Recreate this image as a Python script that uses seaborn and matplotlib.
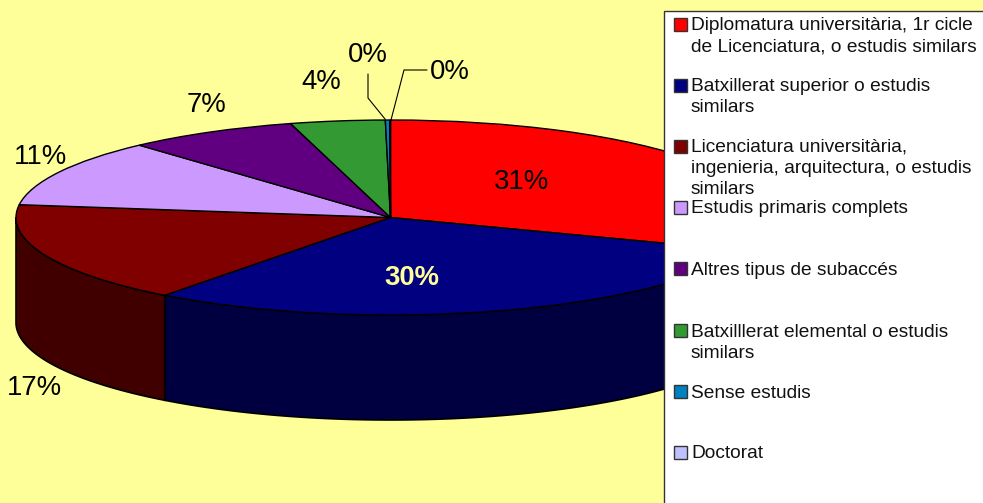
import numpy as np
import matplotlib
matplotlib.use("Agg")
import matplotlib.pyplot as plt
from matplotlib.patches import Rectangle
import seaborn as sns

categories = [
    "Diplomatura universitària, 1r cicle\nde Licenciatura, o estudis similars",
    "Batxillerat superior o estudis\nsimilars",
    "Licenciatura universitària,\ningenieria, arquitectura, o estudis\nsimilars",
    "Estudis primaris complets",
    "Altres tipus de subaccés",
    "Batxilllerat elemental o estudis\nsimilars",
    "Sense estudis",
    "Doctorat",
]
values = [30.5, 29.8, 16.8, 11.2, 7.4, 4.08, 0.2, 0.02]
percent_labels = ["31%", "30%", "17%", "11%", "7%", "4%", "0%", "0%"]
colors = ["#FF0000", "#000080", "#800000", "#CC99FF", "#600080", "#339933", "#0080C0", "#C0C0FF"]
side_colors = ["#800000", "#000040", "#400000", "#664C80", "#300040", "#194C19", "#004060", "#606080"]

W, H = 983, 503
BG = "#FFFF99"
sns.set_style("white")
plt.rcParams["font.family"] = ["Liberation Sans", "DejaVu Sans"]
palette = sns.color_palette(colors)

fig = plt.figure(figsize=(W / 100, H / 100), dpi=100, facecolor=BG)

# --- pie: top face is an ordinary pie on non-equal axes, so it is elliptical
cx, cy, rx, ry, depth = 390.5, 217.5, 374.5, 97.5, 105
ax = fig.add_axes([(cx - rx) / W, (H - cy - ry) / H, 2 * rx / W, 2 * ry / H])
ax.patch.set_alpha(0)
ax.pie(values, colors=palette, startangle=90, counterclock=False, radius=1,
       wedgeprops=dict(edgecolor="black", linewidth=1.0, clip_on=False, zorder=3))
ax.set_aspect("auto")
ax.set_xlim(-1, 1)
ax.set_ylim(-1, 1)

# side wall, from the same values
d = depth / ry
edges = 90 - 360 * np.concatenate([[0], np.cumsum(values)]) / sum(values)
for start, stop, col in zip(edges[:-1], edges[1:], side_colors):
    lo, hi = max(stop, -180), min(start, 0)
    if lo < hi:
        t = np.radians(np.linspace(hi, lo, 120))
        xs = np.concatenate([np.cos(t), np.cos(t[::-1])])
        ys = np.concatenate([np.sin(t), np.sin(t[::-1]) - d])
        ax.fill(xs, ys, facecolor=col, edgecolor="black", linewidth=1.2, clip_on=False, zorder=2)

# --- overlay in pixel coordinates for labels and the legend panel
ov = fig.add_axes([0, 0, 1, 1], zorder=5)
ov.set_xlim(0, W)
ov.set_ylim(H, 0)
ov.axis("off")

label_xy = [(522, 182), (412, 278), (34, 388), (40, 157), (207, 105), (321, 82), (368, 55), (450, 72)]
for i, (txt, (x, y)) in enumerate(zip(percent_labels, label_xy)):
    bold = i == 1
    ov.text(x, y, txt, ha="center", va="center", fontsize=19.8,
            color=BG if bold else "black", fontweight="bold" if bold else "normal")

ov.plot([368, 368, 385], [74, 98, 119], color="black", lw=0.8)
ov.plot([427, 404, 391], [70, 70, 120], color="black", lw=0.8)

ov.add_patch(Rectangle((664, 10.5), 330, 510, facecolor="white", edgecolor="#333333", linewidth=1.0, zorder=1))
swatch_y = [24, 85, 146, 207, 268, 330, 391, 452]
base_y = [30, 91, 152, 213, 275, 337, 398, 458]
for cat, col, sy, by in zip(categories, palette, swatch_y, base_y):
    ov.add_patch(Rectangle((673.5, sy - 6.5), 13, 13, facecolor=col, edgecolor="#333333", linewidth=1.0, zorder=2))
    for k, line in enumerate(cat.split("\n")):
        ov.text(691, by + 21 * k, line, ha="left", va="baseline", fontsize=13.75, color="#111111", zorder=3)

fig.savefig("out.png", dpi=100, facecolor=BG)
